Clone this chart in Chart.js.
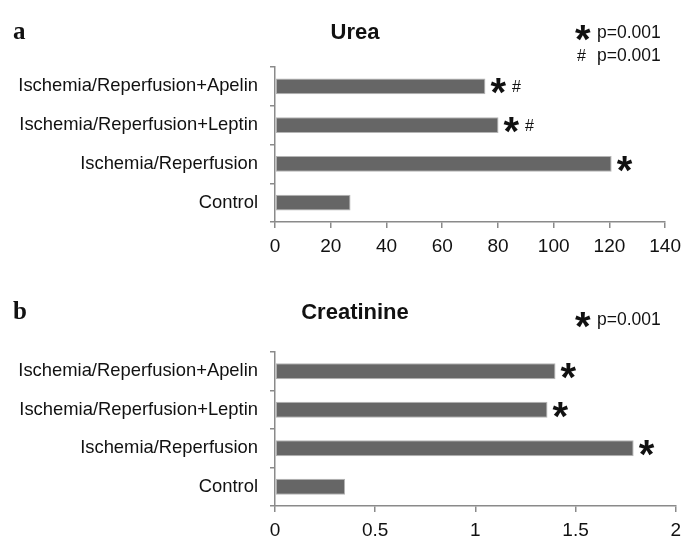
<!DOCTYPE html>
<html>
<head>
<meta charset="utf-8">
<script src="https://cdn.jsdelivr.net/npm/chart.js@4"></script>
<style>
  body { margin: 0; background: #fff; }
  #wrap { position: relative; width: 688px; height: 552px; }
  #chartA { position: absolute; left: 0; top: 0; }
  #chartB { position: absolute; left: 0; top: 270px; }
</style>
</head>
<body>
<div id="wrap">
  <canvas id="chartA" width="688" height="270"></canvas>
  <canvas id="chartB" width="688" height="282"></canvas>
</div>
<script>
// data
const categories = ['Ischemia/Reperfusion+Apelin', 'Ischemia/Reperfusion+Leptin', 'Ischemia/Reperfusion', 'Control'];
const ureaValues = [75.5, 80.2, 120.8, 27.1];
const creatinineValues = [1.40, 1.36, 1.79, 0.35];
const ureaMarks = ['*#', '*#', '*', ''];
const creatinineMarks = ['*', '*', '*', ''];
const ureaTicks = { max: 140, step: 20 };
const creatinineTicks = { max: 2, step: 0.5 };
const ureaLegend = [['*', 'p=0.001'], ['#', 'p=0.001']];
const creatinineLegend = [['*', 'p=0.001']];

const AXIS = '#8a8a8a';
const SANS = '"Liberation Sans", Arial, sans-serif';

// draws panel letter, title, p-value legend and the significance marks
const textPlugin = {
  id: 'panelText',
  afterDraw(chart) {
    const o = chart.options.plugins.panelText;
    const ctx = chart.ctx;
    const xs = chart.scales.x, ys = chart.scales.y;
    ctx.save();
    ctx.fillStyle = '#111';
    ctx.textBaseline = 'middle';

    ctx.font = 'bold 25px "Liberation Serif", serif';
    ctx.textAlign = 'left';
    ctx.fillText(o.letter, 13, o.titleY);

    ctx.font = 'bold 22px ' + SANS;
    ctx.textAlign = 'center';
    ctx.fillText(o.title, 355, o.titleY);

    o.legend.forEach((row, i) => {
      const y = o.legendY + i * 23;
      drawMark(ctx, row[0], 577, y);
      ctx.font = '17.5px ' + SANS;
      ctx.textAlign = 'left';
      ctx.textBaseline = 'middle';
      ctx.fillText(row[1], 597, y);
    });

    o.values.forEach((v, i) => {
      const marks = o.marks[i];
      if (!marks) return;
      let x = xs.getPixelForValue(v) + 7;
      const y = ys.getPixelForValue(i);
      for (const m of marks) {
        x += drawMark(ctx, m, x, y) + 8;
      }
    });
    ctx.restore();
  }
};

function drawMark(ctx, m, x, y) {
  ctx.textAlign = 'left';
  if (m === '*') {
    ctx.font = 'bold 40px ' + SANS;
    ctx.textBaseline = 'alphabetic';
    const w = ctx.measureText('*').width;
    ctx.fillText('*', x - 2, y + 20);
    return w - 4;
  }
  ctx.font = '16px ' + SANS;
  ctx.textBaseline = 'middle';
  ctx.fillText(m, x, y + 1);
  return ctx.measureText(m).width;
}

function makeChart(id, values, ticks, marks, legend, letter, title, top, titleY, legendY, xAxisH, rightPad) {
  return new Chart(document.getElementById(id), {
    type: 'bar',
    data: {
      labels: categories,
      datasets: [{
        data: values,
        backgroundColor: '#666666',
        borderColor: '#b5b5b5',
        borderWidth: 1,
        borderSkipped: false,
        barPercentage: 0.41,
        categoryPercentage: 1
      }]
    },
    options: {
      indexAxis: 'y',
      responsive: false,
      animation: false,
      layout: { padding: { top: top, right: rightPad, left: 0, bottom: 0 } },
      plugins: {
        legend: { display: false },
        tooltip: { enabled: false },
        panelText: { values, marks, legend, letter, title, titleY, legendY }
      },
      scales: {
        x: {
          min: 0,
          max: ticks.max,
          ticks: {
            stepSize: ticks.step, color: '#111', font: { family: SANS, size: 19 }, padding: 7,
            callback: v => String(v)
          },
          grid: { drawOnChartArea: false, color: AXIS, tickLength: 6, lineWidth: 1.5 },
          border: { color: AXIS, width: 1.5 },
          afterFit(s) { s.height = xAxisH; }
        },
        y: {
          ticks: { color: '#111', font: { family: SANS, size: 18.4 }, padding: 12 },
          grid: { drawOnChartArea: false, color: AXIS, tickLength: 5, lineWidth: 1.5, offset: true },
          border: { color: AXIS, width: 1.5 },
          afterFit(s) { s.width = 275; }
        }
      }
    },
    plugins: [textPlugin]
  });
}

makeChart('chartA', ureaValues, ureaTicks, ureaMarks, ureaLegend, 'a', 'Urea', 67, 33, 33, 48, 20);
makeChart('chartB', creatinineValues, creatinineTicks, creatinineMarks, creatinineLegend, 'b', 'Creatinine', 82, 43, 50, 46, 10);
</script>
</body>
</html>
